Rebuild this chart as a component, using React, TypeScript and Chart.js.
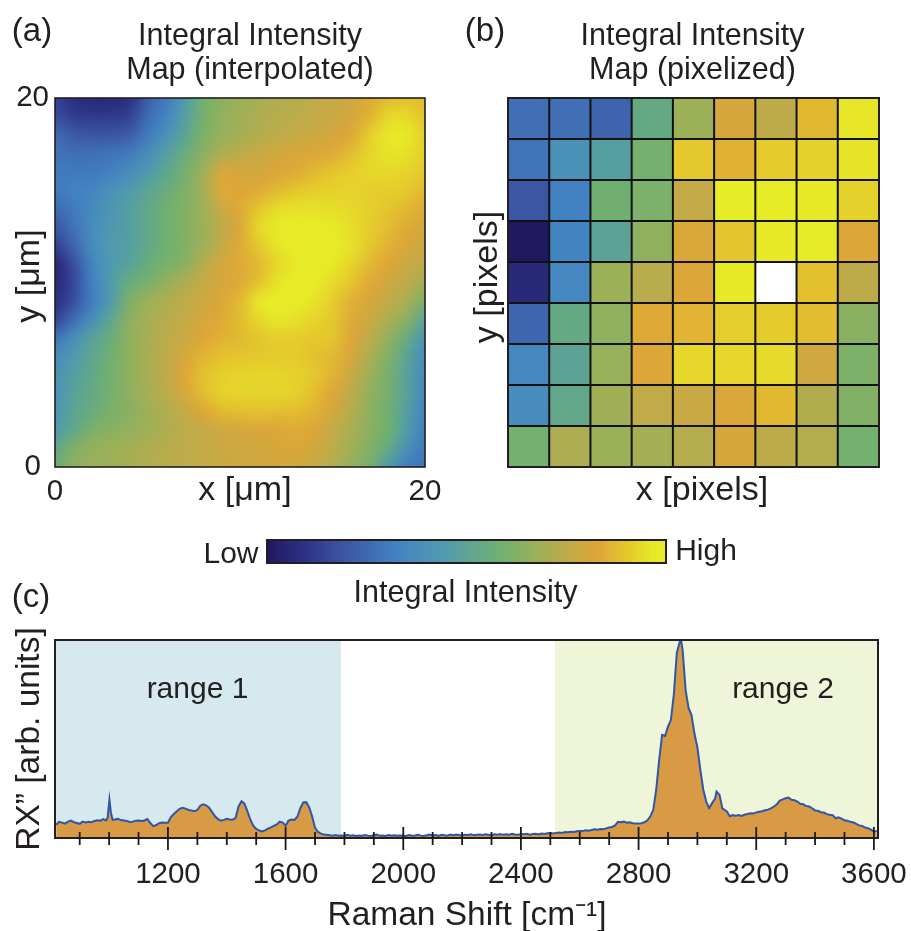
import React, { useEffect, useRef } from "react";
import Chart from "chart.js/auto";

const FONT = "'Liberation Sans', Arial, sans-serif";
const INK = "#231f20";

/* ---- colour scale of the figure: intensity stop -> colour ---- */
const scaleStops = [0, 0.1, 0.2, 0.33, 0.42, 0.52, 0.62, 0.7, 0.79, 0.87, 1];
const scaleColors = [
  [33, 25, 95], [44, 51, 136], [60, 85, 164], [67, 133, 195], [79, 154, 174],
  [111, 176, 112], [156, 176, 88], [189, 171, 74], [221, 166, 56], [228, 197, 45], [232, 236, 39],
];
function rgbFor(v: number): number[] {
  const t = Math.max(0, Math.min(1, v));
  let i = 0;
  while (i < scaleStops.length - 2 && t > scaleStops[i + 1]) i++;
  const f = (t - scaleStops[i]) / (scaleStops[i + 1] - scaleStops[i]);
  return scaleColors[i].map((c, k) => Math.round(c + (scaleColors[i + 1][k] - c) * f));
}
const cssFor = (v: number | null) => {
  if (v === null) return "#ffffff";
  const [r, g, b] = rgbFor(v);
  return `rgb(${r},${g},${b})`;
};

/* ---- panel (a): interpolated map, rows from y=20 down to y=0, 0..20 um in x ---- */
const mapX = [0, 1, 2, 3, 4, 5, 6, 7, 8, 9, 10, 11, 12, 13, 14, 15, 16, 17, 18, 19, 20];
const mapY = [20, 19, 18, 17, 16, 15, 14, 13, 12, 11, 10, 9, 8, 7, 6, 5, 4, 3, 2, 1, 0];
const mapRows = [
  [.15,.08,.06,.06,.08,.22,.3,.42,.52,.58,.62,.64,.67,.68,.7,.72,.75,.8,.84,.86,.84],
  [.18,.13,.12,.12,.14,.26,.33,.44,.53,.6,.63,.66,.68,.7,.72,.74,.76,.82,.93,.94,.86],
  [.26,.21,.2,.2,.22,.3,.38,.46,.55,.6,.64,.67,.7,.72,.74,.76,.79,.9,.98,.99,.9],
  [.28,.27,.27,.28,.3,.36,.44,.5,.58,.66,.7,.73,.76,.78,.79,.8,.85,.92,.97,.96,.9],
  [.3,.3,.3,.32,.36,.42,.47,.53,.62,.78,.76,.76,.78,.8,.84,.87,.9,.93,.93,.92,.88],
  [.3,.32,.33,.38,.42,.46,.5,.55,.64,.8,.79,.8,.84,.87,.9,.91,.92,.9,.9,.88,.84],
  [.26,.3,.35,.4,.44,.48,.52,.56,.62,.73,.8,.87,.95,.96,.96,.95,.93,.9,.87,.84,.8],
  [.2,.28,.36,.41,.44,.48,.52,.56,.62,.7,.78,.93,.99,1,1,.99,.95,.9,.85,.8,.76],
  [.14,.24,.36,.42,.44,.48,.52,.56,.62,.72,.8,.88,.97,1,1,1,.96,.88,.82,.78,.74],
  [.05,.18,.33,.42,.45,.5,.54,.58,.68,.76,.8,.84,.93,.99,1,.99,.92,.84,.79,.74,.7],
  [.06,.16,.32,.42,.5,.54,.6,.66,.72,.77,.8,.86,.97,1,1,.94,.87,.8,.75,.7,.63],
  [.08,.18,.31,.42,.55,.62,.66,.7,.75,.78,.84,.98,1,1,.97,.9,.82,.77,.71,.65,.55],
  [.15,.26,.37,.47,.58,.64,.68,.72,.77,.8,.85,.93,.98,.96,.92,.88,.8,.74,.66,.58,.46],
  [.28,.37,.45,.5,.59,.65,.69,.74,.79,.82,.84,.87,.9,.9,.88,.87,.79,.7,.6,.5,.4],
  [.36,.42,.47,.52,.59,.65,.7,.77,.83,.86,.87,.88,.89,.89,.86,.84,.77,.66,.56,.46,.36],
  [.38,.44,.48,.53,.59,.65,.7,.79,.86,.9,.92,.92,.92,.91,.88,.82,.73,.62,.54,.45,.35],
  [.39,.45,.49,.53,.59,.64,.69,.77,.85,.91,.92,.92,.92,.91,.85,.79,.7,.6,.53,.45,.34],
  [.4,.46,.5,.54,.58,.62,.67,.72,.79,.84,.85,.86,.85,.85,.82,.76,.68,.59,.52,.44,.33],
  [.42,.48,.55,.58,.6,.63,.66,.7,.72,.75,.77,.78,.79,.8,.79,.72,.65,.58,.52,.43,.31],
  [.48,.56,.6,.62,.64,.66,.68,.7,.72,.74,.75,.76,.77,.78,.75,.7,.63,.56,.49,.38,.3],
  [.5,.58,.61,.63,.65,.67,.69,.7,.71,.73,.74,.75,.76,.76,.72,.67,.6,.54,.42,.31,.28],
];

/* ---- panel (b): pixelized map, rows from top to bottom; null = off-scale white pixel ---- */
const pixelColumns = ["1", "2", "3", "4", "5", "6", "7", "8", "9"];
const pixelRows: (number | null)[][] = [
  [.27,.27,.24,.49,.62,.77,.70,.84,.98],
  [.28,.38,.44,.53,.88,.82,.89,.91,.97],
  [.20,.32,.52,.55,.72,1,1,.99,.91],
  [0,.33,.46,.59,.78,.87,.99,1,.79],
  [.06,.34,.62,.69,.79,.99,null,.86,.70],
  [.25,.49,.59,.80,.83,.90,.89,.85,.58],
  [.34,.46,.61,.79,.93,.93,.94,.75,.55],
  [.36,.48,.63,.71,.73,.78,.84,.67,.56],
  [.53,.66,.62,.64,.68,.77,.70,.68,.53],
];
const pixelHeight = [1, 1, 1, 1, 1, 1, 1, 1, 1];

/* ---- panel (c): spectrum ---- */
const ramanShift = [
  820,830,840,850,860,870,880,890,900,910,920,930,940,950,960,970,980,990,995,1001,1006,1012,
  1020,1030,1040,1050,1060,1070,1080,1090,1100,1110,1120,1130,1140,1150,1160,1170,1180,1190,
  1200,1210,1220,1230,1240,1250,1260,1270,1280,1290,1300,1310,1320,1330,1340,1350,1360,1370,1380,1390,
  1400,1410,1420,1430,1440,1450,1460,1470,1480,1490,1500,1510,1520,1530,1540,1550,1560,1570,1580,1590,
  1600,1610,1620,1630,1640,1650,1660,1670,1680,1690,1700,1710,1720,1730,1740,1750,1760,1770,1780,1790,
  1800,1810,1820,1830,1840,1850,1860,1870,1880,1890,1900,1910,1920,1930,1940,1950,1960,1970,1980,1990,
  2000,2010,2020,2030,2040,2050,2060,2070,2080,2090,2100,2110,2120,2130,2140,2150,2160,2170,2180,2190,
  2200,2210,2220,2230,2240,2250,2260,2270,2280,2290,2300,2310,2320,2330,2340,2350,2360,2370,2380,2390,
  2400,2410,2420,2430,2440,2450,2460,2470,2480,2490,2500,2510,2520,2530,2540,2550,2560,2570,2580,2590,
  2600,2610,2620,2630,2640,2650,2660,2670,2680,2690,2700,2710,2720,2730,2740,2750,2760,2770,2780,2790,
  2800,2810,2820,2830,2840,2850,2860,2870,2880,2890,2900,2910,2920,2930,2940,2945,2950,2960,2970,2980,2990,
  3000,3010,3020,3030,3040,3050,3060,3065,3075,3085,3100,3110,3120,3130,3140,3150,3160,3170,3180,3190,
  3200,3210,3220,3230,3240,3250,3260,3270,3280,3290,3300,3310,3320,3330,3340,3350,3360,3370,3380,3390,
  3400,3410,3420,3430,3440,3450,3460,3470,3480,3490,3500,3510,3520,3530,3540,3550,3560,3570,3580,3590,3600,3610,
];
const rxValues = [
  6.7,8.2,7.8,7.3,8.3,8.8,8.0,7.6,7.2,8.3,7.9,8.2,8.0,8.6,9.0,8.8,9.6,8.9,10.5,19.5,13,9.2,
  9.4,9.7,9.1,8.9,8.6,8.1,8.3,8.8,8.9,8.6,8.9,9.6,7.6,6.0,6.6,7.5,7.9,7.8,
  7.7,10.6,12.2,13.6,14.8,15.3,14.9,14.2,14.0,13.6,14.2,16.4,17.1,16.6,15.4,13.2,11.0,9.6,8.8,9.2,
  9.7,9.4,9.3,10.2,16.0,18.6,17.4,13.6,9.4,6.3,4.6,3.8,3.3,3.9,4.7,5.4,6.2,6.9,8.3,7.8,
  6.3,8.8,9.4,9.2,10.8,15.1,18.0,18.2,15.7,11.0,5.2,3.1,2.2,1.8,1.6,1.4,1.2,1.5,1.1,1.3,
  1.0,1.6,1.2,1.4,1.0,1.3,1.1,1.5,1.2,1.0,1.4,1.7,1.1,1.3,1.0,1.5,1.2,1.4,1.1,1.3,
  1.2,1.0,1.5,1.1,1.3,1.6,1.2,1.0,1.4,1.7,1.3,1.5,1.1,1.6,1.4,1.2,1.7,1.4,1.8,1.5,
  1.3,1.7,1.5,1.9,1.4,1.6,1.8,1.5,1.9,1.6,1.4,1.9,1.7,2.0,1.6,1.9,1.7,2.1,1.8,1.6,
  2.2,1.9,2.1,1.7,2.0,2.2,1.8,2.3,2.0,2.4,2.5,2.3,2.6,2.8,2.6,3.0,2.9,3.2,3.0,3.4,
  3.6,3.5,3.9,3.7,4.1,4.4,4.2,4.6,4.5,4.9,5.3,5.6,6.4,8.2,8.0,8.3,7.8,8.0,7.5,7.3,
  7.3,7.5,8.0,9.0,11.0,14.3,24.5,39.6,52.3,51.8,56.5,60,73,94,99.5,100,95,75,66,62.4,53,
  46,34.6,24.5,18.5,15.2,17.7,20,23.6,22,15,13.5,11,11.6,11.3,11.7,11.2,11.8,12.2,12.6,12.4,
  13,13.3,13.6,14.1,14.4,15,15.9,17.1,19,19.6,20.2,20.5,19.4,19.2,18.5,17.4,17.1,16.2,16.0,15.1,
  14,13.8,13.1,12.9,12.1,11.8,11.6,10,10.5,9.8,9,8.8,8.2,7.9,7.2,6.4,6.1,5.3,5.0,4.2,3.2,3.6,
];
const axisMin = 816;
const axisMax = 3614;
const range1 = [816, 1788];
const range2 = [2515, 3614];
const spectrumTicks = [
  900,1000,1100,1200,1300,1400,1500,1600,1700,1800,1900,2000,2100,2200,
  2300,2400,2500,2600,2700,2800,2900,3000,3100,3200,3300,3400,3500,3600,
];
const spectrumLabels = [1200, 1600, 2000, 2400, 2800, 3200, 3600];

/* ---- colour bar: position along the bar -> intensity level ---- */
const barPositions = [0, .18, .32, .42, .5, .6, .66, .74, .83, .9, .97, 1];
const barIntensity = [0, .19, .32, .4, .46, .53, .6, .69, .79, .87, .99, 1];
const barSteps = Array.from({ length: 200 }, (_, i) => i / 199);
function barLevel(p: number) {
  let i = 0;
  while (i < barPositions.length - 2 && p > barPositions[i + 1]) i++;
  const f = (p - barPositions[i]) / (barPositions[i + 1] - barPositions[i]);
  return barIntensity[i] + (barIntensity[i + 1] - barIntensity[i]) * f;
}

/* ---- helpers ---- */
type Txt = { t: string; x: number; y: number; s: number; a?: CanvasTextAlign; rot?: boolean };
const textPlugin = (items: Txt[]) => ({
  id: "panelText",
  afterDraw(chart: any) {
    const c = chart.ctx;
    c.save();
    c.fillStyle = INK;
    c.textBaseline = "alphabetic";
    for (const it of items) {
      c.save();
      c.font = `${it.s}px ${FONT}`;
      c.textAlign = it.a || "center";
      c.translate(it.x, it.y);
      if (it.rot) c.rotate(-Math.PI / 2);
      c.fillText(it.t, 0, 0);
      c.restore();
    }
    c.restore();
  },
});
const framePlugin = (w: number) => ({
  id: "frame",
  afterDatasetsDraw(chart: any) {
    const { left, top, width, height } = chart.chartArea;
    const c = chart.ctx;
    c.save();
    c.strokeStyle = INK;
    c.lineWidth = w;
    c.strokeRect(left, top, width, height);
    c.restore();
  },
});
const cellLinesPlugin = {
  id: "cellLines",
  afterDatasetsDraw(chart: any) {
    const xs = chart.scales.x;
    const ys = chart.scales.y;
    const { left, right, top, bottom } = chart.chartArea;
    const c = chart.ctx;
    c.save();
    c.strokeStyle = "#111111";
    c.lineWidth = 2;
    for (let i = 1; i < pixelColumns.length; i++) {
      const px = (xs.getPixelForValue(i - 1) + xs.getPixelForValue(i)) / 2;
      c.beginPath();
      c.moveTo(px, top);
      c.lineTo(px, bottom);
      c.stroke();
    }
    for (let j = 1; j < pixelRows.length; j++) {
      const py = ys.getPixelForValue(j);
      c.beginPath();
      c.moveTo(left, py);
      c.lineTo(right, py);
      c.stroke();
    }
    c.restore();
  },
};
const mapPlugin = {
  id: "mapImage",
  beforeDatasetsDraw(chart: any) {
    const pts = chart.data.datasets[0].data;
    const n = mapX.length;
    const m = mapY.length;
    const off = document.createElement("canvas");
    off.width = n;
    off.height = m;
    const oc = off.getContext("2d")!;
    const img = oc.createImageData(n, m);
    pts.forEach((p: any, i: number) => {
      const [r, g, b] = rgbFor(p.v);
      img.data.set([r, g, b, 255], i * 4);
    });
    oc.putImageData(img, 0, 0);
    const xs = chart.scales.x;
    const ys = chart.scales.y;
    const x0 = xs.getPixelForValue(mapX[0]);
    const x1 = xs.getPixelForValue(mapX[n - 1]);
    const y0 = ys.getPixelForValue(mapY[0]);
    const y1 = ys.getPixelForValue(mapY[m - 1]);
    const c = chart.ctx;
    c.save();
    c.imageSmoothingEnabled = true;
    c.imageSmoothingQuality = "high";
    c.drawImage(off, 0.5, 0.5, n - 1, m - 1, x0, y0, x1 - x0, y1 - y0);
    c.restore();
  },
};
const spectrumTickPlugin = {
  id: "spectrumTicks",
  afterDatasetsDraw(chart: any) {
    const xs = chart.scales.x;
    const base = chart.chartArea.bottom;
    const c = chart.ctx;
    c.save();
    c.strokeStyle = "#1a1a1a";
    c.lineWidth = 1.8;
    for (const v of spectrumTicks) {
      const major = spectrumLabels.includes(v);
      const px = xs.getPixelForValue(v);
      c.beginPath();
      c.moveTo(px, base - (major ? 11 : 6));
      c.lineTo(px, base + (major ? 12 : 7));
      c.stroke();
    }
    c.restore();
  },
};
const noPad = (scale: any) => {
  scale.paddingLeft = 0;
  scale.paddingRight = 0;
  scale.paddingTop = 0;
  scale.paddingBottom = 0;
};
const W = 911;
const H = 931;
const base = {
  responsive: false,
  animation: false as const,
  events: [] as string[],
};
const noLegend = { legend: { display: false }, tooltip: { enabled: false }, title: { display: false } };

function makeConfigs(): any[] {
  const tickFont = { family: FONT, size: 29.5 };
  const a = {
    type: "scatter",
    data: {
      datasets: [
        {
          label: "Integral Intensity",
          data: mapRows.flatMap((row, j) => row.map((v, i) => ({ x: mapX[i], y: mapY[j], v }))),
          pointRadius: 0,
          showLine: false,
        },
      ],
    },
    options: {
      ...base,
      layout: { padding: { left: 0, top: 98, right: W - 425, bottom: H - 467 - 40 } },
      plugins: noLegend,
      scales: {
        x: {
          type: "linear",
          min: 0,
          max: 20,
          grid: { display: false, drawTicks: false },
          border: { display: false },
          ticks: { stepSize: 20, font: tickFont, color: INK, padding: 7, maxRotation: 0 },
          afterFit(s: any) {
            s.height = 40;
            noPad(s);
          },
        },
        y: {
          type: "linear",
          min: 0,
          max: 20,
          grid: { display: false, drawTicks: false },
          border: { display: false },
          ticks: { stepSize: 20, font: tickFont, color: INK, padding: 6, crossAlign: "center" },
          afterFit(s: any) {
            s.width = 55;
            noPad(s);
          },
        },
      },
    },
    plugins: [
      mapPlugin,
      framePlugin(1.6),
      textPlugin([
        { t: "(a)", x: 32, y: 41, s: 33 },
        { t: "Integral Intensity", x: 250, y: 45, s: 30.5 },
        { t: "Map (interpolated)", x: 250, y: 79, s: 30.5 },
        { t: "y [μm]", x: 39, y: 276, s: 34, rot: true },
        { t: "x [μm]", x: 245, y: 500, s: 34 },
      ]),
    ],
  };

  const b = {
    type: "bar",
    data: {
      labels: pixelColumns,
      datasets: [...pixelRows].reverse().map((row, k) => ({
        label: `row ${k + 1}`,
        data: pixelHeight.map((h) => h),
        backgroundColor: row.map((v) => cssFor(v)),
        borderWidth: 0,
        barPercentage: 1,
        categoryPercentage: 1,
      })),
    },
    options: {
      ...base,
      layout: { padding: { left: 508, top: 98, right: W - 879, bottom: H - 467 } },
      plugins: noLegend,
      scales: {
        x: { display: false, stacked: true, offset: true },
        y: { display: false, stacked: true, min: 0, max: pixelRows.length },
      },
    },
    plugins: [
      cellLinesPlugin,
      framePlugin(2),
      textPlugin([
        { t: "(b)", x: 485, y: 41, s: 33 },
        { t: "Integral Intensity", x: 692.5, y: 45, s: 30.5 },
        { t: "Map (pixelized)", x: 692.5, y: 79, s: 30.5 },
        { t: "y [pixels]", x: 497, y: 277, s: 34, rot: true },
        { t: "x [pixels]", x: 702, y: 500, s: 34 },
      ]),
    ],
  };

  const bar = {
    type: "bar",
    data: {
      labels: barSteps.map((p) => p.toFixed(3)),
      datasets: [
        {
          label: "Integral Intensity",
          data: barSteps.map(() => 1),
          backgroundColor: barSteps.map((p) => cssFor(barLevel(p))),
          barPercentage: 1,
          categoryPercentage: 1,
          borderWidth: 0,
        },
      ],
    },
    options: {
      ...base,
      layout: { padding: { left: 267, top: 540, right: W - 666, bottom: H - 563 } },
      plugins: noLegend,
      scales: { x: { display: false }, y: { display: false, min: 0, max: 1 } },
    },
    plugins: [
      framePlugin(2),
      textPlugin([
        { t: "Low", x: 231, y: 563, s: 30 },
        { t: "High", x: 706, y: 560, s: 30 },
        { t: "Integral Intensity", x: 465.5, y: 602, s: 30.5 },
      ]),
    ],
  };

  const c = {
    type: "line",
    data: {
      datasets: [
        {
          label: "Rx”",
          data: ramanShift.map((x, i) => ({ x, y: rxValues[i] })),
          borderColor: "#2f56a8",
          borderWidth: 2,
          backgroundColor: "#d89a45",
          fill: "origin",
          pointRadius: 0,
          tension: 0,
          order: 1,
        },
        {
          label: "range 1",
          data: range1.map((x) => ({ x, y: 100.5 })),
          borderWidth: 0,
          backgroundColor: "#d6e9ee",
          fill: "origin",
          pointRadius: 0,
          order: 2,
        },
        {
          label: "range 2",
          data: range2.map((x) => ({ x, y: 100.5 })),
          borderWidth: 0,
          backgroundColor: "#eef5d8",
          fill: "origin",
          pointRadius: 0,
          order: 2,
        },
      ],
    },
    options: {
      ...base,
      layout: { padding: { left: 55, top: 640, right: W - 878, bottom: H - 838 - 50 } },
      plugins: noLegend,
      scales: {
        x: {
          type: "linear",
          min: axisMin,
          max: axisMax,
          grid: { display: false, drawTicks: false },
          border: { display: false },
          ticks: {
            font: tickFont,
            color: INK,
            padding: 19,
            autoSkip: false,
            maxRotation: 0,
            callback: (v: number) => (spectrumLabels.includes(v) ? String(v) : ""),
          },
          afterBuildTicks(s: any) {
            s.ticks = spectrumTicks.map((value) => ({ value }));
          },
          afterFit(s: any) {
            s.height = 50;
            noPad(s);
          },
        },
        y: { display: false, type: "linear", min: 0, max: 100.5 },
      },
    },
    plugins: [
      framePlugin(2),
      spectrumTickPlugin,
      textPlugin([
        { t: "(c)", x: 31, y: 607, s: 33 },
        { t: "RX” [arb. units]", x: 39, y: 739, s: 33.5, rot: true },
        { t: "Raman Shift [cm⁻¹]", x: 467, y: 925, s: 33.5 },
        { t: "range 1", x: 197.5, y: 698, s: 30 },
        { t: "range 2", x: 783, y: 698, s: 30 },
      ]),
    ],
  };
  return [a, b, bar, c];
}

export default function App() {
  const refs = [
    useRef<HTMLCanvasElement>(null),
    useRef<HTMLCanvasElement>(null),
    useRef<HTMLCanvasElement>(null),
    useRef<HTMLCanvasElement>(null),
  ];
  useEffect(() => {
    const configs = makeConfigs();
    const charts = configs.map((cfg, i) => new Chart(refs[i].current as any, cfg));
    return () => charts.forEach((ch) => ch.destroy());
  }, []);
  return (
    <div style={{ position: "absolute", left: 0, top: 0, width: W, height: H, overflow: "hidden", background: "#fff" }}>
      {refs.map((r, i) => (
        <canvas key={i} ref={r} width={W} height={H} style={{ position: "absolute", left: 0, top: 0 }} />
      ))}
    </div>
  );
}
